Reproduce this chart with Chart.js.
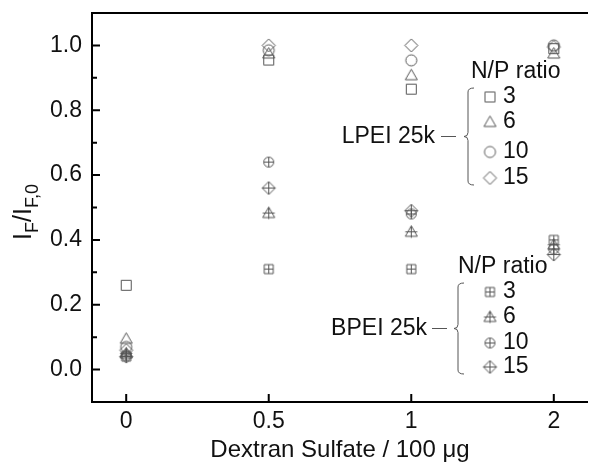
<!DOCTYPE html>
<html>
<head>
<meta charset="utf-8">
<script src="https://cdn.jsdelivr.net/npm/chart.js@4.4.0/dist/chart.umd.min.js"></script>
<style>
  html, body { margin: 0; padding: 0; background: #fff; }
  #wrap { width: 595px; height: 465px; }
</style>
</head>
<body>
<div id="wrap"><canvas id="c" width="595" height="465"></canvas></div>
<script>
// dextran sulfate amounts (category axis) and N/P ratios
const doses = ['0', '0.5', '1', '2'];
const ratios = ['3', '6', '10', '15'];
const yTicks = [0.0, 0.2, 0.4, 0.6, 0.8, 1.0];

// LPEI 25k, I_F / I_F,0 per dose
const lpei3  = [0.26, 0.955, 0.865, 0.99];
const lpei6  = [0.095, 0.975, 0.908, 0.975];
const lpei10 = [0.07, 0.985, 0.954, 1.0];
const lpei15 = [0.06, 1.0, 1.0, 0.995];

// BPEI 25k
const bpei3  = [0.04, 0.31, 0.31, 0.40];
const bpei6  = [0.05, 0.483, 0.425, 0.385];
const bpei10 = [0.045, 0.64, 0.48, 0.372];
const bpei15 = [0.04, 0.56, 0.49, 0.355];

const FONT = '"Liberation Sans", Arial, sans-serif';
const GREY = '#555';

function marker(shape, cross) {
  const s = 17, m = s / 2;
  const c = document.createElement('canvas');
  c.width = s; c.height = s;
  const g = c.getContext('2d');
  g.strokeStyle = GREY;
  g.lineWidth = 1;
  g.beginPath();
  let h = 5;
  if (shape === 'square') {
    h = cross ? 4.5 : 5;
    g.rect(m - h, m - h, 2 * h, 2 * h);
  } else if (shape === 'triangle') {
    h = 6;
    g.moveTo(m, m - h);
    g.lineTo(m + h, m + h * 0.75);
    g.lineTo(m - h, m + h * 0.75);
    g.closePath();
  } else if (shape === 'circle') {
    h = cross ? 5 : 5.5;
    g.arc(m, m, h, 0, Math.PI * 2);
  } else {
    h = 6.5;
    g.moveTo(m, m - h);
    g.lineTo(m + h, m);
    g.lineTo(m, m + h);
    g.lineTo(m - h, m);
    g.closePath();
  }
  if (cross) {
    g.moveTo(m - h, m); g.lineTo(m + h, m);
    g.moveTo(m, m - h); g.lineTo(m, m + h);
  }
  g.stroke();
  return c;
}

const shapes = ['square', 'triangle', 'circle', 'diamond'];
const lpeiMarks = shapes.map(s => marker(s, false));
const bpeiMarks = shapes.map(s => marker(s, true));

const toPts = arr => arr.map((v, i) => ({ x: i, y: v }));
const series = [
  ['LPEI 3', lpei3, lpeiMarks[0]], ['LPEI 6', lpei6, lpeiMarks[1]],
  ['LPEI 10', lpei10, lpeiMarks[2]], ['LPEI 15', lpei15, lpeiMarks[3]],
  ['BPEI 3', bpei3, bpeiMarks[0]], ['BPEI 6', bpei6, bpeiMarks[1]],
  ['BPEI 10', bpei10, bpeiMarks[2]], ['BPEI 15', bpei15, bpeiMarks[3]]
];

function brace(ctx, x, top, bot) {
  const mid = (top + bot) / 2;
  ctx.beginPath();
  ctx.moveTo(x + 6, top);
  ctx.quadraticCurveTo(x, top, x, top + 4);
  ctx.lineTo(x, mid - 4);
  ctx.quadraticCurveTo(x, mid, x - 4, mid);
  ctx.quadraticCurveTo(x, mid, x, mid + 4);
  ctx.lineTo(x, bot - 4);
  ctx.quadraticCurveTo(x, bot, x + 6, bot);
  ctx.stroke();
}

const decor = {
  id: 'decor',
  afterDraw(chart) {
    const ctx = chart.ctx;
    const a = chart.chartArea;
    const ys = chart.scales.y, xs = chart.scales.x;
    ctx.save();
    // frame
    ctx.strokeStyle = '#000';
    ctx.lineWidth = 2;
    ctx.beginPath();
    ctx.moveTo(a.left, a.top); ctx.lineTo(a.right, a.top);
    ctx.moveTo(a.left, a.top - 1); ctx.lineTo(a.left, a.bottom + 1);
    ctx.moveTo(a.left - 1, a.bottom); ctx.lineTo(a.right, a.bottom);
    // inner ticks
    for (let k = 1; k <= 11; k++) {
      const v = -0.1 + k * 0.1;
      if (v > 1.05) break;
      const py = ys.getPixelForValue(v);
      const len = (k % 2 === 1) ? 8 : 5;
      ctx.moveTo(a.left, py); ctx.lineTo(a.left + len, py);
    }
    doses.forEach((d, i) => {
      const px = xs.getPixelForValue(i);
      ctx.moveTo(px, a.bottom); ctx.lineTo(px, a.bottom - 8);
    });
    ctx.stroke();

    // y axis title I_F/I_F,0
    ctx.fillStyle = '#111';
    ctx.translate(31, 212);
    ctx.rotate(-Math.PI / 2);
    const big = '25px ' + FONT, small = '18px ' + FONT;
    const parts = [['I', big, 0], ['F', small, 7], ['/I', big, 0], ['F,0', small, 7]];
    let w = 0;
    parts.forEach(p => { ctx.font = p[1]; w += ctx.measureText(p[0]).width; });
    let cx = -w / 2;
    ctx.textBaseline = 'alphabetic';
    parts.forEach(p => {
      ctx.font = p[1];
      ctx.fillText(p[0], cx, p[2]);
      cx += ctx.measureText(p[0]).width;
    });
    ctx.setTransform(1, 0, 0, 1, 0, 0);

    // in-plot legends
    const groups = [
      { name: 'LPEI 25k', marks: lpeiMarks, head: 471, top: 72, rows: [97, 122, 152, 178], brX: 468, nameR: 435, dash: [441, 456] },
      { name: 'BPEI 25k', marks: bpeiMarks, head: 458, top: 267, rows: [292, 317, 343, 367], brX: 458, nameR: 427, dash: [432, 447] }
    ];
    groups.forEach(gp => {
      ctx.fillStyle = '#111';
      ctx.font = '23px ' + FONT;
      ctx.textBaseline = 'middle';
      ctx.textAlign = 'left';
      ctx.fillText('N/P ratio', gp.head, gp.top);
      ratios.forEach((r, i) => {
        const m = gp.marks[i];
        ctx.drawImage(m, 490 - m.width / 2, gp.rows[i] - m.height / 2);
        ctx.fillText(r, 503, gp.rows[i]);
      });
      const top = gp.rows[0] - 9, bot = gp.rows[3] + 7;
      const mid = (top + bot) / 2;
      ctx.textAlign = 'right';
      ctx.fillText(gp.name, gp.nameR, mid);
      ctx.strokeStyle = GREY;
      ctx.lineWidth = 1;
      ctx.beginPath();
      ctx.moveTo(gp.dash[0], mid); ctx.lineTo(gp.dash[1], mid);
      ctx.stroke();
      brace(ctx, gp.brX, top, bot);
    });
    ctx.restore();
  }
};

new Chart(document.getElementById('c'), {
  type: 'scatter',
  data: {
    datasets: series.map(s => ({
      label: s[0],
      data: toPts(s[1]),
      pointStyle: s[2],
      pointRadius: 6,
      pointHoverRadius: 6,
      showLine: false
    }))
  },
  options: {
    responsive: false,
    animation: false,
    layout: { padding: { top: 13, right: 0, left: 0, bottom: 0 } },
    plugins: {
      legend: { display: false },
      tooltip: { enabled: false }
    },
    scales: {
      x: {
        type: 'linear',
        min: -0.24,
        max: 3.24,
        afterBuildTicks: sc => { sc.ticks = doses.map((d, i) => ({ value: i })); },
        afterFit: sc => { sc.height = 63; sc.paddingLeft = 0; sc.paddingRight = 0; },
        grid: { display: false, drawTicks: false },
        border: { display: false },
        ticks: {
          padding: 6,
          color: '#111',
          font: { family: FONT, size: 23 },
          callback: v => doses[v]
        },
        title: {
          display: true,
          text: 'Dextran Sulfate / 100 μg',
          color: '#111',
          font: { family: FONT, size: 24 },
          padding: { top: 0, bottom: 0 }
        }
      },
      y: {
        min: -0.1,
        max: 1.1,
        afterBuildTicks: sc => { sc.ticks = yTicks.map(v => ({ value: v })); },
        afterFit: sc => { sc.width = 92; sc.paddingTop = 0; sc.paddingBottom = 0; },
        grid: { display: false, drawTicks: false },
        border: { display: false },
        ticks: {
          padding: 10,
          color: '#111',
          font: { family: FONT, size: 23 },
          callback: v => v.toFixed(1)
        }
      }
    }
  },
  plugins: [decor]
});
</script>
</body>
</html>
